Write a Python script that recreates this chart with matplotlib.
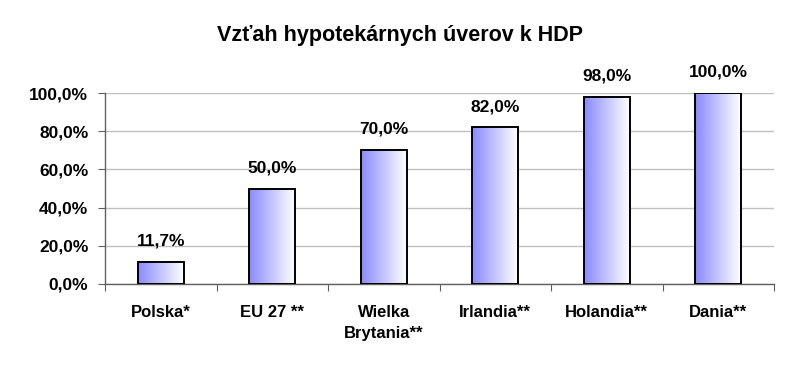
import matplotlib
matplotlib.use("Agg")
import matplotlib.pyplot as plt
import numpy as np
from matplotlib.colors import LinearSegmentedColormap

categories = ["Polska*", "EU 27 **", "Wielka\nBrytania**", "Irlandia**", "Holandia**", "Dania**"]
values = [11.7, 50.0, 70.0, 82.0, 98.0, 100.0]
value_labels = ["11,7%", "50,0%", "70,0%", "82,0%", "98,0%", "100,0%"]
yticks = [0, 20, 40, 60, 80, 100]
ytick_labels = ["0,0%", "20,0%", "40,0%", "60,0%", "80,0%", "100,0%"]
title = "Vzťah hypotekárnych úverov k HDP"

plt.rcParams['font.family'] = ['Liberation Sans', 'DejaVu Sans']

fig = plt.figure(figsize=(8, 3.81), dpi=100)
ax = fig.add_axes([105/800, 1-284/381, (774-105)/800, (284-93)/381])

x = np.arange(len(categories))
bars = ax.bar(x, values, width=0.41, facecolor='none', edgecolor='black', linewidth=1.4, zorder=3)

cmap = LinearSegmentedColormap.from_list("g", ["#8a8aff", "#c4c4ff", "#ffffff"])
grad = np.linspace(0, 1, 256).reshape(1, -1)
for b in bars:
    x0, y0 = b.get_x(), b.get_y()
    w, h = b.get_width(), b.get_height()
    im = ax.imshow(grad, cmap=cmap, extent=[x0, x0 + w, y0, y0 + h], aspect='auto', zorder=2, interpolation='bicubic')
    im.set_clip_path(b)

for xi, v, lab in zip(x, values, value_labels):
    ax.annotate(lab, (xi, v), xytext=(0, 15), textcoords='offset points', ha='center', va='center',
                fontsize=12.5, fontweight='bold', annotation_clip=False)

ax.set_xlim(-0.5, len(categories) - 0.5)
ax.set_ylim(0, 100)
ax.set_yticks(yticks)
ax.set_yticklabels(ytick_labels, fontsize=12.5, fontweight='bold')
ax.set_xticks(np.arange(len(categories) + 1) - 0.5)
ax.set_xticklabels([])
ax.set_xticks(x, minor=True)
ax.set_xticklabels(categories, minor=True, fontsize=12, fontweight='bold', linespacing=1.5, va='top')
ax.tick_params(axis='x', which='minor', length=0, pad=15)
ax.tick_params(axis='x', which='major', length=5, color='#606060')
ax.tick_params(axis='y', length=5, pad=7, color='#606060')

ax.grid(axis='y', color='#c0c0c0', linewidth=1, zorder=0)
ax.set_axisbelow(True)
for s in ['top', 'right']:
    ax.spines[s].set_visible(False)
for s in ['left', 'bottom']:
    ax.spines[s].set_color('#606060')
    ax.spines[s].set_linewidth(1)

fig.text(0.5, 1 - 35/381, title, ha='center', va='center', fontsize=15.5, fontweight='bold')

fig.savefig("out.png", dpi=100)
